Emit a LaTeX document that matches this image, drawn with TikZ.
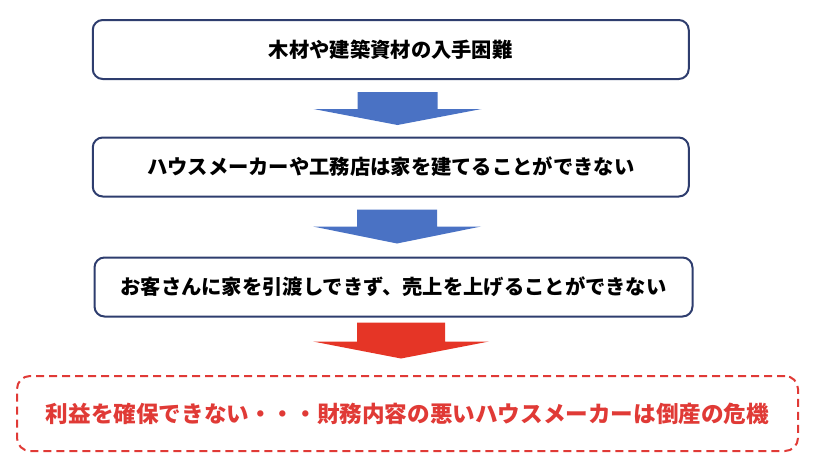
\documentclass[tikz,border=0pt]{standalone}
\usepackage{fontspec}
\newfontfamily\jpfont{Noto Sans CJK JP}
\usetikzlibrary{calc}
\definecolor{boxline}{HTML}{2E3D6E}
\definecolor{arrowblue}{HTML}{4A72C4}
\definecolor{arrowred}{HTML}{E53526}
\definecolor{riskred}{HTML}{E03A36}
% block arrow pointing down: colour, top centre, shaft half width, head half width, shaft length, full length
\newcommand{\blockarrow}[6]{%
  \fill[#1, shift={(#2)}] (-#3,0) -- (#3,0) -- (#3,#5) -- (#4,#5) -- (0,#6) -- (-#4,#5) -- (-#3,#5) -- cycle;}
\begin{document}
\begin{tikzpicture}[x=1pt, y=-1pt,
    flowbox/.style={draw=boxline, line width=2pt, rounded corners=10pt, fill=white,
      minimum height=59pt, font=\jpfont\bfseries\fontsize{20.3}{23}\selectfont},
    riskbox/.style={draw=riskred, line width=2pt, dash pattern=on 8pt off 5pt, rounded corners=13pt,
      minimum width=781pt, minimum height=75pt, text=riskred, font=\jpfont\bfseries\fontsize{22.6}{26}\selectfont}]
    \useasboundingbox (0,0) rectangle (828,474);
    \node[flowbox, minimum width=596pt] (box1) at (390.75,49.5) {木材や建築資材の入手困難};
    \node[flowbox, minimum width=596pt] (box2) at (390.75,167) {ハウスメーカーや工務店は家を建てることができない};
    \node[flowbox, minimum width=598pt] (box3) at (393.5,287) {お客さんに家を引渡しできず、売上を上げることができない};
    \node[riskbox] (risk) at (407.5,413.5) {利益を確保できない・・・財務内容の悪いハウスメーカーは倒産の危機};
    \blockarrow{arrowblue}{$(box1.south)+(6.75,12)$}{40}{84}{17}{33}
    \blockarrow{arrowblue}{$(box2.south)+(6.25,12)$}{40}{84}{17}{34}
    \blockarrow{arrowred}{$(box3.south)+(7.5,5)$}{44}{88}{19}{36}
\end{tikzpicture}
\end{document}
